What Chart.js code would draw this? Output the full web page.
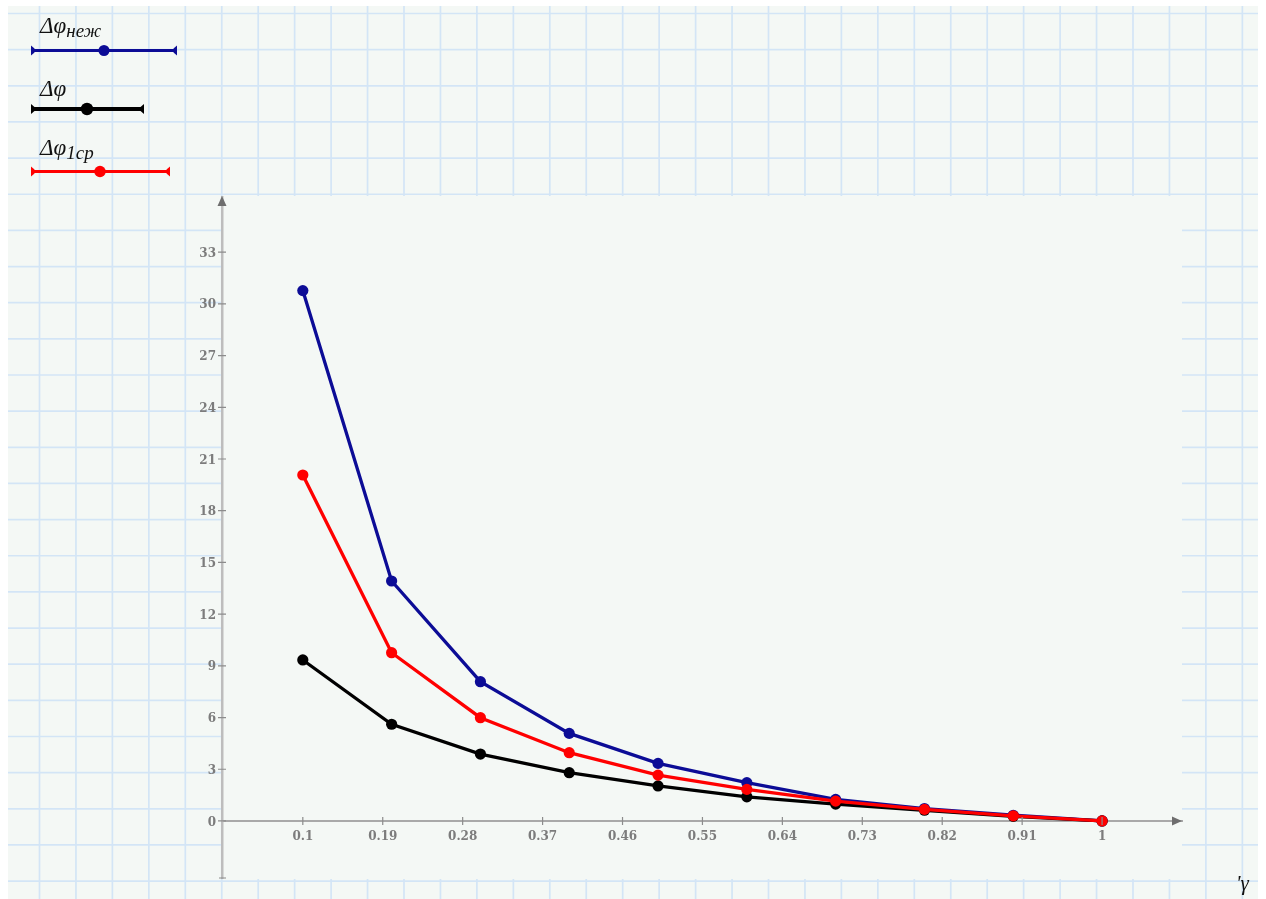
<!DOCTYPE html>
<html><head><meta charset="utf-8">
<script src="https://cdn.jsdelivr.net/npm/chart.js@4.4.1/dist/chart.umd.min.js"></script>
<style>
html,body{margin:0;padding:0;background:#fff;}
#wrap{position:relative;width:1266px;height:899px;overflow:hidden;}
canvas{position:absolute;left:0;top:0;}
.lg{position:absolute;font-family:"Liberation Serif","Times New Roman",serif;font-style:italic;font-size:23px;color:#111;white-space:nowrap;line-height:23px;}
.lg span.sb{font-size:19px;position:relative;top:4px;}
</style></head><body>
<div id="wrap"><canvas id="c" width="1266" height="899"></canvas></div>
<script>
// ---- data ----
const gammaValues = [0.1, 0.2, 0.3, 0.4, 0.5, 0.6, 0.7, 0.8, 0.9, 1.0];
const dPhiNezh = [30.77, 13.92, 8.08, 5.08, 3.34, 2.22, 1.25, 0.72, 0.33, 0];
const dPhi     = [9.34, 5.61, 3.88, 2.80, 2.03, 1.40, 0.98, 0.62, 0.27, 0];
const dPhi1sr  = [20.07, 9.76, 5.99, 3.96, 2.66, 1.83, 1.15, 0.67, 0.30, 0];
const xTickLabels = ['0.1','0.19','0.28','0.37','0.46','0.55','0.64','0.73','0.82','0.91','1'];
const yTickLabels = ['0','3','6','9','12','15','18','21','24','27','30','33'];
const seriesMain = ['Δφ', 'Δφ', 'Δφ'];
const seriesSub  = ['неж', '', '1ср'];
const seriesColors = ['#0c0c96', '#000000', '#ff0000'];
const axisLabel = "'γ";

// ---- legend text (HTML) ----
const wrap = document.getElementById('wrap');
const legendTops = [14, 77, 136];
seriesMain.forEach((m, i) => {
  const d = document.createElement('div');
  d.className = 'lg';
  d.style.left = '40px';
  d.style.top = legendTops[i] + 'px';
  d.innerHTML = m + (seriesSub[i] ? '<span class="sb">' + seriesSub[i] + '</span>' : '');
  wrap.appendChild(d);
});
const g = document.createElement('div');
g.className = 'lg';
g.style.left = '1236px'; g.style.top = '872px'; g.style.fontSize = '21px';
g.textContent = axisLabel;
wrap.appendChild(g);

// ---- plugins ----
const bgPlugin = {
  id: 'bg',
  beforeDraw(chart) {
    const ctx = chart.ctx, ca = chart.chartArea;
    ctx.save();
    ctx.fillStyle = '#ffffff';
    ctx.fillRect(0, 0, chart.width, chart.height);
    ctx.fillStyle = '#f4f8f5';
    ctx.fillRect(8, 6, 1250, 893);
    ctx.strokeStyle = '#d3e5f6';
    ctx.lineWidth = 1.7;
    ctx.beginPath();
    for (let x = 39.5; x < 1258; x += 36.45) { ctx.moveTo(x, 6); ctx.lineTo(x, 899); }
    for (let y = 13.5; y < 899; y += 36.15) { ctx.moveTo(8, y); ctx.lineTo(1258, y); }
    ctx.stroke();
    ctx.fillStyle = '#f4f8f5';
    ctx.fillRect(ca.left, ca.top - 1, ca.right - ca.left, ca.bottom - ca.top + 2);
    ctx.restore();
  },
  afterDraw(chart) {
    const ctx = chart.ctx, ca = chart.chartArea;
    const xs = chart.scales.x, ys = chart.scales.y;
    const y0 = ys.getPixelForValue(0);
    ctx.save();
    ctx.strokeStyle = '#8c8c8c';
    ctx.lineWidth = 1.2;
    ctx.beginPath();
    xs.ticks.forEach(t => { const p = xs.getPixelForValue(t.value); ctx.moveTo(p, y0 - 4); ctx.lineTo(p, y0 + 4); });
    ys.ticks.forEach(t => { const p = ys.getPixelForValue(t.value); ctx.moveTo(ca.left - 4, p); ctx.lineTo(ca.left + 4, p); });
    ctx.moveTo(ca.left - 3, ca.bottom); ctx.lineTo(ca.left + 4, ca.bottom);
    ctx.stroke();
    ctx.fillStyle = '#6e6e6e';
    ctx.beginPath();
    ctx.moveTo(ca.left, ca.top - 1); ctx.lineTo(ca.left - 4.5, ca.top + 9); ctx.lineTo(ca.left + 4.5, ca.top + 9); ctx.closePath();
    ctx.fill();
    ctx.beginPath();
    ctx.moveTo(ca.right, y0); ctx.lineTo(ca.right - 10, y0 - 4.5); ctx.lineTo(ca.right - 10, y0 + 4.5); ctx.closePath();
    ctx.fill();
    const lg = [
      {y: 50.5, x2: 176, dot: 104, w: 3, r: 5.5},
      {y: 109, x2: 143, dot: 87, w: 4.2, r: 6.2},
      {y: 171.5, x2: 169, dot: 100, w: 3, r: 5.7}
    ];
    lg.forEach((l, i) => {
      ctx.strokeStyle = seriesColors[i];
      ctx.fillStyle = seriesColors[i];
      ctx.lineWidth = l.w;
      ctx.beginPath(); ctx.moveTo(32, l.y); ctx.lineTo(l.x2, l.y); ctx.stroke();
      [32, l.x2].forEach((ex, k) => {
        const dir = k === 0 ? 1 : -1;
        ctx.beginPath();
        ctx.moveTo(ex - dir * 1, l.y - 5);
        ctx.lineTo(ex + dir * 2.5, l.y - 2);
        ctx.lineTo(ex + dir * 2.5, l.y + 2);
        ctx.lineTo(ex - dir * 1, l.y + 5);
        ctx.closePath();
        ctx.fill();
      });
      ctx.beginPath(); ctx.arc(l.dot, l.y, l.r, 0, Math.PI * 2); ctx.fill();
    });
    ctx.restore();
  }
};

const mk = (arr) => gammaValues.map((x, i) => ({x: x, y: arr[i]}));
const seriesData = [dPhiNezh, dPhi, dPhi1sr];
const drawOrder = [2, 1, 0];

new Chart(document.getElementById('c'), {
  type: 'line',
  data: {
    datasets: seriesData.map((arr, i) => ({
      label: seriesMain[i] + seriesSub[i],
      data: mk(arr),
      borderColor: seriesColors[i],
      backgroundColor: seriesColors[i],
      pointBackgroundColor: seriesColors[i],
      pointBorderWidth: 0,
      pointRadius: 5.6,
      borderWidth: 3.3,
      tension: 0,
      fill: false,
      order: drawOrder[i],
      clip: false
    }))
  },
  options: {
    responsive: false,
    animation: false,
    devicePixelRatio: 1,
    layout: {padding: {left: 0, top: 197, right: 84, bottom: 21}},
    plugins: {legend: {display: false}, tooltip: {enabled: false}},
    scales: {
      x: {
        type: 'linear',
        min: 0.009, max: 1.09,
        position: {y: 0},
        afterFit(s) { s.height = 0; },
        afterBuildTicks(s) { s.ticks = xTickLabels.map(v => ({value: parseFloat(v)})); },
        grid: {display: false, drawTicks: false},
        border: {display: true, color: '#a9a9a9', width: 2},
        ticks: {
          autoSkip: false, maxRotation: 0, padding: 9,
          color: '#7c7c7c',
          font: {family: 'DejaVu Serif', size: 12, weight: 'bold'},
          callback: (v, i) => xTickLabels[i]
        }
      },
      y: {
        type: 'linear',
        min: -3.31, max: 36.2,
        position: 'left',
        afterFit(s) { s.width = 222; },
        afterBuildTicks(s) { s.ticks = yTickLabels.map(v => ({value: parseFloat(v)})); },
        grid: {display: false, drawTicks: false},
        border: {display: true, color: '#bdbdbd', width: 2.5},
        ticks: {
          padding: 6, labelOffset: 1.5,
          color: '#7c7c7c',
          font: {family: 'DejaVu Serif', size: 12, weight: 'bold'},
          callback: (v, i) => yTickLabels[i]
        }
      }
    }
  },
  plugins: [bgPlugin]
});
</script>
</body></html>
